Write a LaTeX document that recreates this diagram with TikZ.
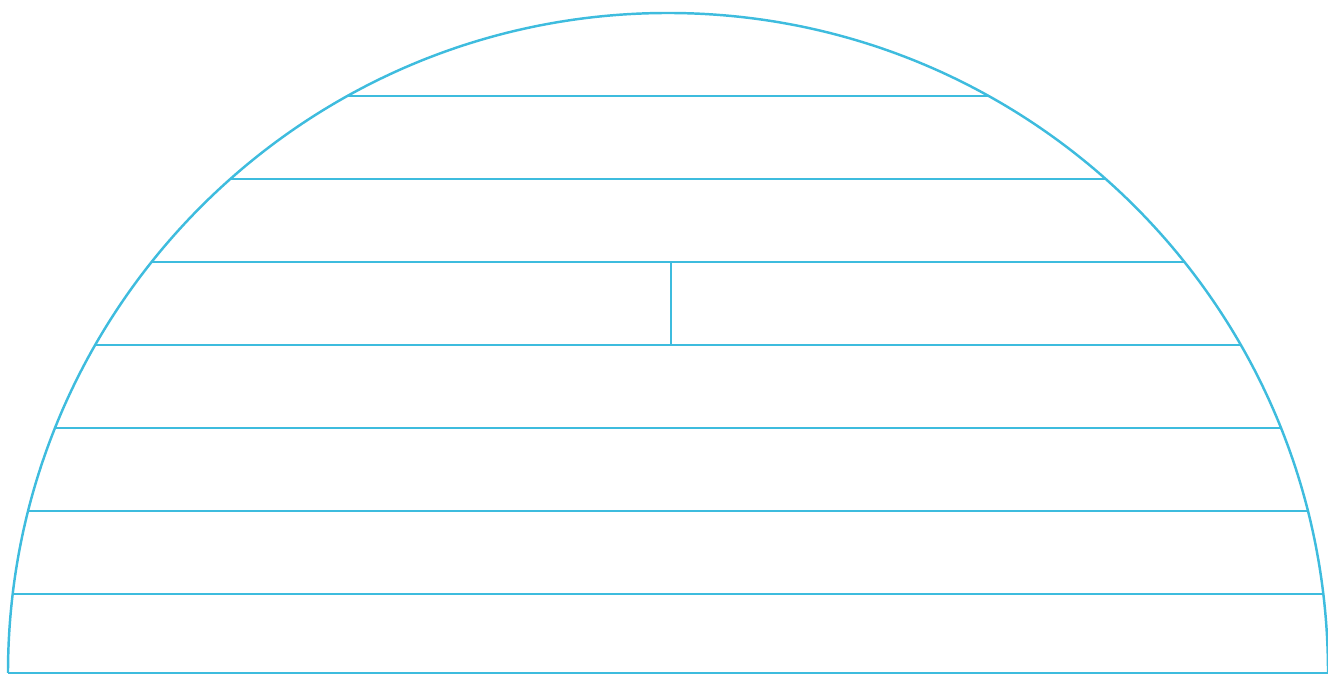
\documentclass[tikz,border=0pt]{standalone}
\usepackage{tikz}
\definecolor{rimcyan}{RGB}{62,188,222}

\begin{document}
\begin{tikzpicture}[
x=0.02cm, y=0.02cm,
rim/.style={draw=rimcyan, line width=1.4pt},
rule/.style={draw=rimcyan, line width=0.8pt}
]
\useasboundingbox (0,0) rectangle (1328,675);
\coordinate (centre) at (668,2);
\coordinate (split top) at (671,413);
\coordinate (split bottom) at (671,330);

\begin{scope}
\clip (8,2) arc[start angle=180, end angle=0, radius=660] -- cycle;
\foreach \row in {0,...,6}
  \draw[rule] (0,81+83*\row) -- (1328,81+83*\row);
\end{scope}
\draw[rule] (split bottom) -- (split top);
\draw[rule] (8,2) -- (1328,2);

\draw[rim] (8,2) arc[start angle=180, end angle=0, radius=660];
\end{tikzpicture}
\end{document}
